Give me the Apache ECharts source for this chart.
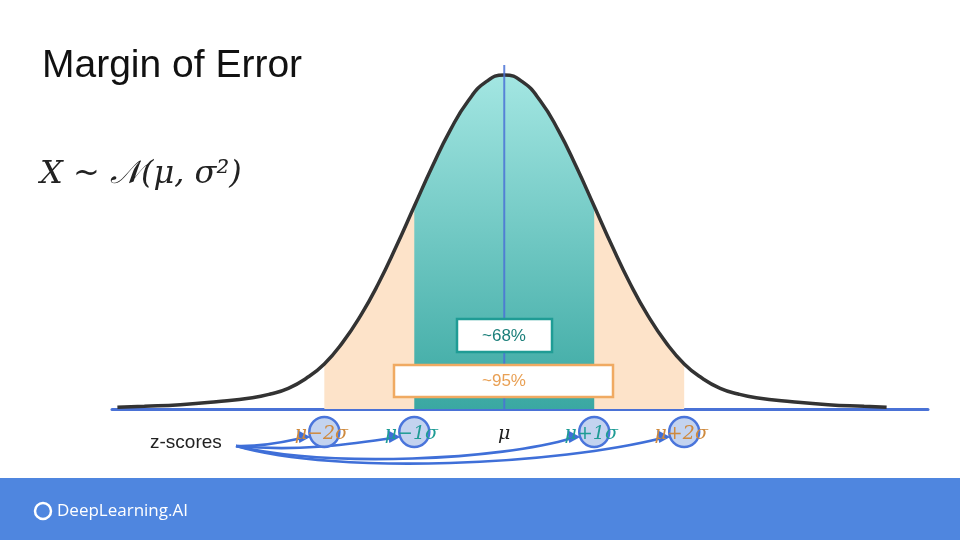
<!DOCTYPE html>
<html><head><meta charset="utf-8">
<script src="https://cdn.jsdelivr.net/npm/echarts@6/dist/echarts.min.js"></script>
<style>html,body{margin:0;padding:0;background:#fff}#c{width:960px;height:540px}</style>
</head><body><div id="c"></div>
<script>
var curveX = [-4.3,-4.0,-3.6,-3.2,-2.8,-2.6,-2.4,-2.2,-2.0,-1.8,-1.6,-1.4,-1.2,-1.0,-0.8,-0.6,-0.4,-0.2,0,0.2,0.4,0.6,0.8,1.0,1.2,1.4,1.6,1.8,2.0,2.2,2.4,2.6,2.8,3.2,3.6,4.0,4.25];
var curveY = [0.005,0.008,0.013,0.022,0.034,0.045,0.062,0.092,0.135,0.198,0.278,0.375,0.487,0.607,0.726,0.835,0.923,0.980,1,0.980,0.923,0.835,0.726,0.607,0.487,0.375,0.278,0.198,0.135,0.092,0.062,0.045,0.034,0.022,0.013,0.008,0.005];
var zLabels = ['μ−2σ','μ−1σ','μ','μ+1σ','μ+2σ'];
var zValues = [-2,-1,0,1,2];
var boxLabels = ['~68%','~95%'];

function pts(lo,hi){var r=[];for(var i=0;i<curveX.length;i++){if(curveX[i]>=lo-1e-9&&curveX[i]<=hi+1e-9)r.push([curveX[i],curveY[i]]);}return r;}
var chart = echarts.init(document.getElementById('c'));
var xMin=-4.36,xMax=4.71,gl=112,gw=816;
function px(v){return gl+(v-xMin)/(xMax-xMin)*gw;}
var circX = [-2,-1,1,2];
var g = [];
g.push({type:'rect',shape:{x:0,y:478,width:960,height:62},style:{fill:'#4f86df'},z:1});
g.push({type:'circle',shape:{cx:43,cy:511,r:8},style:{fill:'none',stroke:'#fff',lineWidth:2.5},z:2});
g.push({type:'text',x:57,y:511,style:{text:'DeepLearning.AI',fill:'#fff',font:'500 17px "Open Sans"',verticalAlign:'middle'},z:2});
g.push({type:'text',x:42,y:66,style:{text:'Margin of Error',fill:'#111',font:'39px "Liberation Sans"',verticalAlign:'middle'}});
g.push({type:'text',x:40,y:175,style:{text:'X ~ 𝒩(μ, σ²)',fill:'#222',font:'italic 32px "DejaVu Serif"',verticalAlign:'middle'}});
g.push({type:'rect',shape:{x:457,y:319,width:95,height:33},style:{fill:'#fff',stroke:'#1f9c95',lineWidth:2.5},z:10});
g.push({type:'text',x:504,y:336,style:{text:boxLabels[0],fill:'#1b7f7a',font:'17px "Liberation Sans"',align:'center',verticalAlign:'middle'},z:11});
g.push({type:'rect',shape:{x:394,y:365,width:219,height:32},style:{fill:'#fff',stroke:'#f0aa62',lineWidth:2.5},z:10});
g.push({type:'text',x:504,y:381,style:{text:boxLabels[1],fill:'#e9a054',font:'17px "Liberation Sans"',align:'center',verticalAlign:'middle'},z:11});
g.push({type:'text',x:150,y:443,style:{text:'z-scores',fill:'#222',font:'19px "Liberation Sans"',verticalAlign:'middle'},z:10});
var cps = [[268,447,292,440],[300,452,350,444],[330,468,500,460],[340,476,560,464]];
circX.forEach(function(v,i){
  var ex=px(v)-16, ey=437;
  var c=cps[i];
  g.push({type:'bezierCurve',shape:{x1:236,y1:446,cpx1:c[0],cpy1:c[1],cpx2:c[2],cpy2:c[3],x2:ex-6,y2:ey+1},style:{stroke:'#3f6fd8',lineWidth:2.6,fill:null},z:12});
  g.push({type:'polygon',shape:{points:[[ex+2,ey],[ex-11,ey-7],[ex-9,ey+6]]},style:{fill:'#3f6fd8'},z:12});
  g.push({type:'circle',shape:{cx:px(v),cy:432,r:15},style:{fill:'rgba(180,200,235,0.8)',stroke:'#4a75db',lineWidth:2.5},z:13});
});
var zCol=['#cf8a3e','#1f9c95','#222','#1f9c95','#cf8a3e'];
zValues.forEach(function(v,i){
  g.push({type:'text',x:px(v)+(v===0?0:-3),y:434,style:{text:zLabels[i],fill:zCol[i],font:'italic 19px "DejaVu Serif"',align:'center',verticalAlign:'middle'},z:14});
});

chart.setOption({
  animation:false,
  grid:{left:gl,width:gw,top:65,height:344},
  xAxis:{type:'value',min:xMin,max:xMax,axisLine:{onZero:false,lineStyle:{color:'#4a72d6',width:3}},axisTick:{show:false},axisLabel:{show:false},splitLine:{show:false}},
  yAxis:{type:'value',min:0,max:1.03,show:false},
  series:[
    {type:'line',data:pts(-2,2),smooth:true,symbol:'none',lineStyle:{width:0},areaStyle:{color:'#fde3c9',opacity:1},z:1},
    {type:'line',data:pts(-1,1),smooth:true,symbol:'none',lineStyle:{width:0},areaStyle:{opacity:1,color:new echarts.graphic.LinearGradient(0,0,0,1,[{offset:0,color:'#a3e6e2'},{offset:1,color:'#3aa8a2'}])},z:2},
    {type:'line',data:curveX.map(function(x,i){return [x,curveY[i]];}),smooth:true,symbol:'none',lineStyle:{color:'#333',width:3.5},z:3},
    {type:'line',data:[[0,0],[0,1.03]],symbol:'none',lineStyle:{color:'#4a72d6',width:2,opacity:0.85},z:4}
  ],
  graphic:g
});
</script></body></html>
